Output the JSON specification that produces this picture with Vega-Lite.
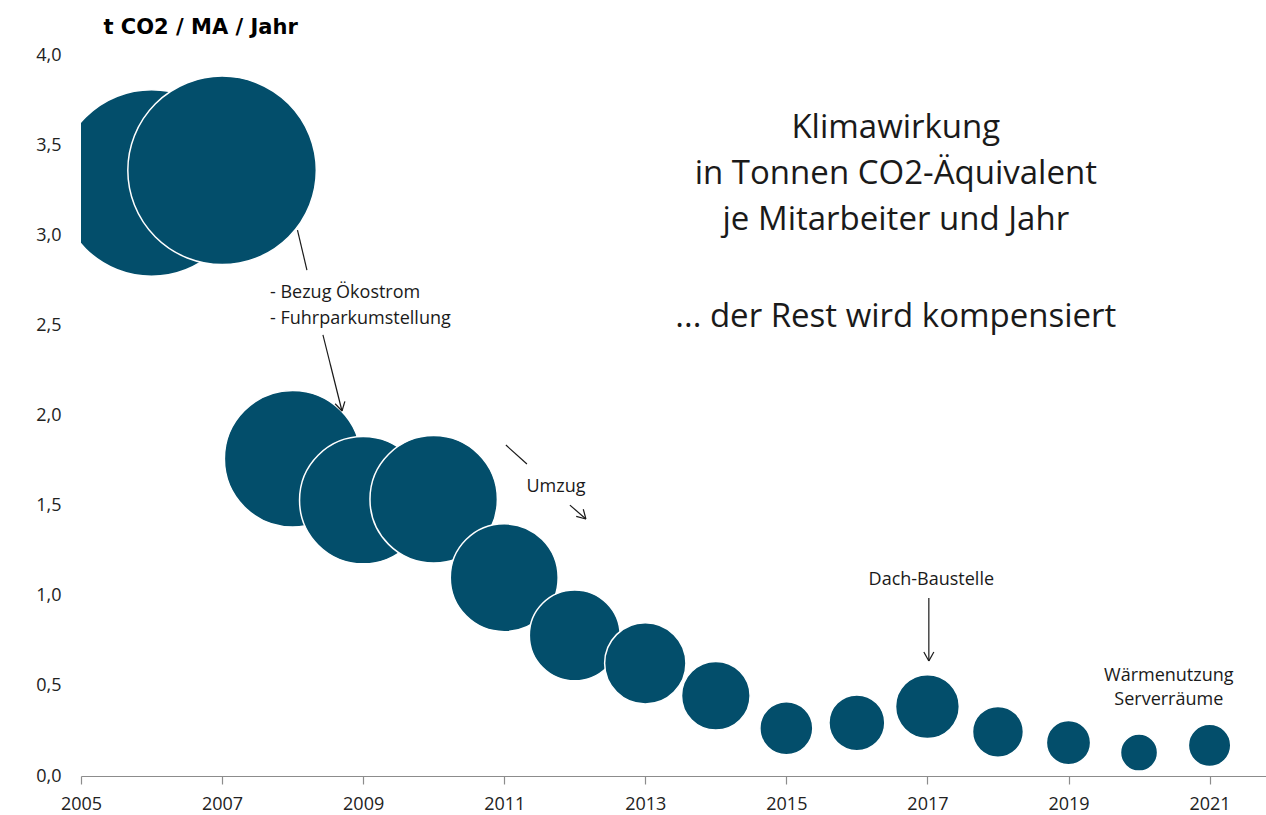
{
  "$schema": "https://vega.github.io/schema/vega-lite/v6.json",
  "width": 1185,
  "height": 721,
  "autosize": {"type": "none"},
  "padding": {"left": 81, "top": 55, "right": 0, "bottom": 39},
  "background": "white",
  "config": {"view": {"stroke": null}, "font": "Open Sans"},
  "layer": [
    {
      "data": {"values": [
        {"year": 2006, "value": 3.29},
        {"year": 2007, "value": 3.36},
        {"year": 2008, "value": 1.76},
        {"year": 2009, "value": 1.53},
        {"year": 2010, "value": 1.535},
        {"year": 2011, "value": 1.10},
        {"year": 2012, "value": 0.78},
        {"year": 2013, "value": 0.625},
        {"year": 2014, "value": 0.445},
        {"year": 2015, "value": 0.265},
        {"year": 2016, "value": 0.295},
        {"year": 2017, "value": 0.385},
        {"year": 2018, "value": 0.245},
        {"year": 2019, "value": 0.185},
        {"year": 2020, "value": 0.13},
        {"year": 2021, "value": 0.17}
      ]},
      "mark": {"type": "circle", "clip": true, "fill": "#034E6B", "fillOpacity": 1, "opacity": 1, "stroke": "#ffffff", "strokeWidth": 1.5, "strokeOpacity": 1},
      "encoding": {
        "x": {
          "field": "year", "type": "quantitative",
          "scale": {"domain": [2005, 2021.8], "nice": false, "zero": false},
          "axis": {
            "values": [2005, 2007, 2009, 2011, 2013, 2015, 2017, 2019, 2021],
            "format": "d", "title": null, "grid": false,
            "domainColor": "#8c8c8c", "tickColor": "#8c8c8c", "tickSize": 8, "domainWidth": 1.2, "tickWidth": 1.2,
            "labelFont": "Open Sans", "labelFontSize": 18, "labelColor": "#222222",
            "labelPadding": 11, "labelFlush": false, "labelOverlap": false
          }
        },
        "y": {
          "field": "value", "type": "quantitative",
          "scale": {"domain": [0, 4], "nice": false},
          "axis": {
            "values": [0, 0.5, 1, 1.5, 2, 2.5, 3, 3.5, 4],
            "labelExpr": "replace(format(datum.value, '.1f'), '.', ',')",
            "domain": false, "ticks": false, "grid": false,
            "labelPadding": 20, "labelFont": "Open Sans", "labelFontSize": 18, "labelColor": "#222222",
            "title": "t CO2 / MA / Jahr", "titleAngle": 0, "titleAlign": "left", "titleBaseline": "alphabetic",
            "titleX": 22, "titleY": -22, "titleFont": "DejaVu Sans", "titleFontSize": 21, "titleFontWeight": "bold", "titleColor": "#000000"
          }
        },
        "size": {"field": "value", "type": "quantitative", "scale": {"type": "linear", "domain": [0, 4], "range": [0, 42304], "zero": true}, "legend": null},
        "order": {"field": "year", "type": "quantitative"}
      }
    },
    {
      "data": {"values": [
        {"year": 2008.069, "value": 3.029, "year2": 2008.203, "value2": 2.807},
        {"year": 2008.430, "value": 2.447, "year2": 2008.700, "value2": 2.025},
        {"year": 2008.700, "value": 2.025, "year2": 2008.741, "value2": 2.078},
        {"year": 2008.700, "value": 2.025, "year2": 2008.603, "value2": 2.065},
        {"year": 2011.024, "value": 1.836, "year2": 2011.322, "value2": 1.731},
        {"year": 2011.931, "value": 1.503, "year2": 2012.158, "value2": 1.426},
        {"year": 2012.158, "value": 1.426, "year2": 2012.121, "value2": 1.480},
        {"year": 2012.158, "value": 1.426, "year2": 2012.021, "value2": 1.440},
        {"year": 2017.020, "value": 0.988, "year2": 2017.020, "value2": 0.638},
        {"year": 2017.020, "value": 0.638, "year2": 2016.949, "value2": 0.688},
        {"year": 2017.020, "value": 0.638, "year2": 2017.091, "value2": 0.688}
      ]},
      "mark": {"type": "rule", "color": "#1a1a1a", "strokeWidth": 1.2},
      "encoding": {
        "x": {"field": "year", "type": "quantitative"},
        "y": {"field": "value", "type": "quantitative"},
        "x2": {"field": "year2"},
        "y2": {"field": "value2"}
      }
    },
    {
      "data": {"values": [
        {"year": 2007.679, "value": 2.652, "label": "- Bezug Ökostrom"},
        {"year": 2007.679, "value": 2.508, "label": "- Fuhrparkumstellung"}
      ]},
      "mark": {"type": "text", "font": "Open Sans", "fontSize": 18, "align": "left", "baseline": "alphabetic", "color": "#1a1a1a"},
      "encoding": {
        "x": {"field": "year", "type": "quantitative"},
        "y": {"field": "value", "type": "quantitative"},
        "text": {"field": "label"}
      }
    },
    {
      "data": {"values": [
        {"year": 2011.733, "value": 1.576, "label": "Umzug"},
        {"year": 2017.055, "value": 1.060, "label": "Dach-Baustelle"},
        {"year": 2020.422, "value": 0.527, "label": "Wärmenutzung"},
        {"year": 2020.422, "value": 0.394, "label": "Serverräume"}
      ]},
      "mark": {"type": "text", "font": "Open Sans", "fontSize": 18, "align": "center", "baseline": "alphabetic", "color": "#1a1a1a"},
      "encoding": {
        "x": {"field": "year", "type": "quantitative"},
        "y": {"field": "value", "type": "quantitative"},
        "text": {"field": "label"}
      }
    },
    {
      "data": {"values": [
        {"year": 2016.552, "value": 3.540, "label": "Klimawirkung"},
        {"year": 2016.552, "value": 3.284, "label": "in Tonnen CO2-Äquivalent"},
        {"year": 2016.552, "value": 3.029, "label": "je Mitarbeiter und Jahr"},
        {"year": 2016.552, "value": 2.491, "label": "... der Rest wird kompensiert"}
      ]},
      "mark": {"type": "text", "font": "Open Sans", "fontSize": 33, "align": "center", "baseline": "alphabetic", "color": "#1a1a1a"},
      "encoding": {
        "x": {"field": "year", "type": "quantitative"},
        "y": {"field": "value", "type": "quantitative"},
        "text": {"field": "label"}
      }
    }
  ]
}
